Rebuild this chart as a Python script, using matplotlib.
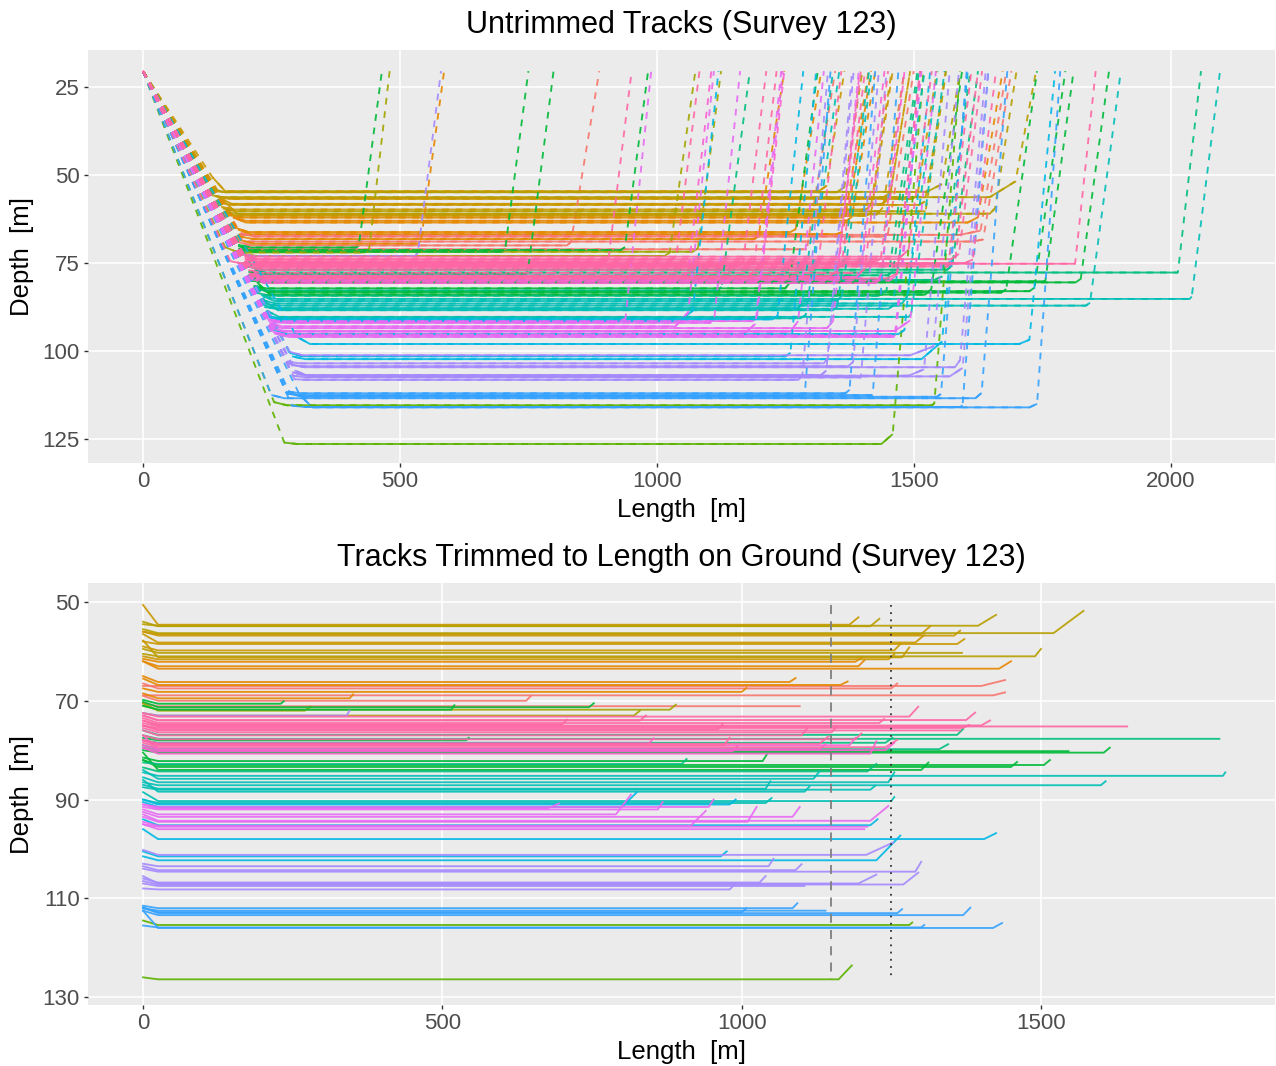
import numpy as np
import matplotlib
matplotlib.use("Agg")
import matplotlib.pyplot as plt

plt.rcParams['font.family'] = ['Liberation Sans', 'DejaVu Sans']

## ============================ Track data ============================ ##

# ggplot-like hue colours, one per track group
palette = {
    'salmon': '#F8766D', 'orange': '#E58700', 'amber': '#C99800',
    'gold': '#B79F00', 'olive': '#A3A500', 'lime': '#5BB300',
    'green': '#00BA38', 'seagreen': '#00BF7D', 'teal': '#00BFB5',
    'cyan': '#00B8E5', 'blue': '#35A2FF', 'purple': '#A58AFF',
    'violet': '#E76BF3', 'magenta': '#FD61D1', 'pink': '#FF67A4',
}
group_names = ['salmon', 'orange', 'amber', 'gold', 'olive', 'lime', 'green',
               'seagreen', 'teal', 'cyan', 'blue', 'purple', 'violet',
               'magenta', 'pink']
group_sizes = [5, 7, 8, 5, 3, 2, 10, 6, 9, 6, 7, 10, 10, 6, 16]

surface_depth = 20.5   # depth where every track leaves / rejoins the surface

# depth of the flat on-ground part [m]
depth = [
    67.0, 68.9, 71.1, 67.5, 70.0,                                   # salmon
    66.8, 66.2, 63.5, 62.1, 63.0, 68.2, 69.5,                       # orange
    54.6, 56.5, 56.8, 58.2, 58.5, 59.8, 61.2, 61.6,                 # amber
    54.9, 54.8, 56.3, 60.3, 61.0,                                   # gold
    72.0, 73.0, 71.8,                                               # olive
    126.4, 115.4,                                                   # lime
    71.3, 71.8, 78.0, 80.2, 80.5, 83.0, 83.4, 82.2, 84.0, 70.6,     # green
    77.7, 76.9, 78.5, 79.8, 84.3, 82.8,                             # seagreen
    85.2, 87.1, 86.5, 85.8, 88.4, 88.0, 87.8, 90.3, 90.7,           # teal
    98.0, 95.2, 91.0, 102.3, 101.5, 91.5,                           # cyan
    112.5, 112.0, 113.4, 116.0, 112.8, 113.0, 115.9,                # blue
    101.2, 103.5, 104.6, 104.3, 107.2, 107.0, 107.5, 106.8, 108.2, 73.0,  # purple
    94.3, 93.5, 94.5, 91.5, 95.5, 96.0, 95.3, 93.0, 91.8, 92.0,     # violet
    80.7, 79.8, 79.0, 80.2, 78.6, 80.0,                             # magenta
    73.2, 73.9, 75.2, 75.0, 75.5, 76.0, 74.5, 76.4, 77.0, 77.8,
    78.7, 79.4, 74.0, 75.8, 79.0, 74.8,                             # pink
]

# depth where the on-ground part begins [m]
start_depth = [
    67.0, 68.9, 70.5, 66.5, 69.0,
    65.5, 65.0, 62.0, 61.5, 62.0, 67.5, 68.5,
    50.6, 56.0, 56.0, 56.5, 58.0, 59.0, 57.8, 61.0,
    54.0, 54.5, 55.5, 59.5, 60.5,
    70.5, 72.5, 71.0,
    126.0, 114.5,
    70.2, 71.0, 77.5, 79.5, 80.0, 82.0, 82.0, 81.5, 80.5, 69.8,
    77.0, 76.0, 78.0, 79.0, 83.5, 82.5,
    84.5, 86.5, 85.5, 84.0, 86.0, 87.5, 87.0, 88.5, 90.0,
    96.0, 94.0, 90.0, 101.5, 100.5, 90.5,
    112.0, 111.5, 112.5, 112.5, 112.0, 111.8, 115.5,
    100.2, 103.0, 104.0, 103.5, 106.5, 105.5, 107.0, 106.0, 108.0, 72.5,
    93.0, 92.5, 93.5, 91.0, 95.0, 95.0, 94.5, 92.0, 91.0, 91.5,
    79.5, 79.0, 78.0, 79.5, 78.0, 77.0,
    72.5, 73.0, 74.5, 74.0, 75.0, 75.0, 73.5, 75.5, 76.0, 77.0,
    78.0, 78.5, 73.0, 75.0, 78.0, 74.0,
]

# length of track on ground [m]
ground_len = [
    1400, 1420, 1097, 1250, 640,
    1165, 1080, 1430, 1190, 1195, 1000, 345,
    1180, 1300, 1355, 1290, 1360, 1255, 1268, 1245,
    1215, 1395, 1521, 1368, 1490,
    270, 820, 880,
    1162, 1280,
    745, 515, 540, 1546, 1605, 1505, 1450, 1035, 1300, 230,
    1798, 1360, 1240, 1330, 1210, 900,
    1804, 1600, 1245, 1120, 1105, 1215, 1040, 1250, 1040,
    1405, 1215, 980, 1225, 965, 800,
    1140, 1085, 1370, 1420, 1000, 1260, 1300,
    1208, 1045, 1290, 1090, 1270, 1195, 1105, 1030, 980, 340,
    1215, 1085, 1010, 945, 1210, 1205, 915, 790, 675, 860,
    1215, 1130, 1180, 985, 845, 1240,
    1280, 1375, 1644, 1400, 1370, 1365, 1230, 1150, 1100, 1190,
    1130, 1240, 830, 960, 970, 700,
]

# lift-off at the end of the ground part: length [m] and rise [m]
hook_len = [
    40, 20, 0, 10, 8,
    12, 10, 20, 12, 10, 8, 6,
    15, 15, 10, 15, 12, 10, 12, 10,
    15, 30, 50, 0, 10,
    10, 10, 10,
    22, 5,
    8, 5, 4, 0, 10, 10, 10, 8, 12, 5,
    0, 10, 12, 15, 15, 8,
    4, 8, 10, 10, 8, 8, 8, 5, 10,
    20, 12, 10, 40, 10, 25,
    0, 8, 12, 15, 8, 8, 5,
    45, 8, 10, 10, 25, 30, 0, 10, 8, 5,
    30, 12, 15, 8, 0, 0, 25, 25, 20, 8,
    10, 10, 10, 8, 8, 15,
    15, 15, 0, 15, 10, 0, 8, 8, 10, 10,
    15, 20, 10, 8, 10, 8,
]
hook_rise = [
    1.2, 0.6, 0.0, 1.0, 1.0,
    0.7, 0.8, 1.5, 1.0, 1.2, 0.8, 0.8,
    1.5, 1.6, 1.0, 1.5, 1.0, 1.3, 2.0, 1.0,
    1.5, 2.2, 4.5, 0.0, 1.5,
    0.8, 1.0, 1.0,
    2.8, 0.5,
    0.8, 0.9, 0.5, 0.0, 1.0, 1.0, 1.0, 1.5, 1.5, 0.5,
    0.0, 1.2, 1.0, 1.0, 1.5, 1.0,
    0.7, 0.8, 2.0, 1.5, 1.0, 0.8, 1.5, 0.8, 1.0,
    1.2, 1.2, 1.0, 5.0, 1.0, 3.0,
    0.0, 1.0, 1.5, 1.0, 0.8, 0.8, 0.5,
    2.5, 1.5, 2.0, 1.2, 2.4, 1.8, 0.0, 1.3, 1.0, 1.0,
    3.0, 2.0, 3.0, 1.5, 0.0, 0.0, 3.0, 4.0, 1.0, 1.5,
    2.5, 1.0, 1.5, 1.0, 1.0, 1.5,
    2.0, 1.5, 0.0, 1.0, 0.6, 0.0, 0.8, 1.0, 1.5, 1.2,
    1.5, 1.5, 1.0, 1.0, 1.5, 1.0,
]

# horizontal length of the descent to the bottom and the ascent back up [m]
descent_len = [
    190, 195, 195, 190, 185,
    185, 180, 175, 170, 175, 190, 190,
    135, 140, 142, 148, 150, 152, 160, 162,
    135, 130, 127, 155, 158,
    160, 195, 190,
    275, 255,
    185, 185, 205, 210, 210, 220, 220, 215, 222, 185,
    216, 205, 208, 210, 222, 218,
    233, 235, 232, 230, 238, 236, 235, 240, 240,
    300, 255, 245, 290, 285, 245,
    280, 282, 250, 305, 280, 285, 290,
    285, 280, 290, 282, 300, 295, 292, 290, 295, 190,
    248, 246, 250, 242, 255, 258, 252, 246, 244, 244,
    212, 210, 208, 210, 208, 212,
    195, 198, 170, 200, 200, 202, 198, 202, 204, 205,
    207, 208, 198, 200, 208, 198,
]
ascent_len = [
    50, 55, 55, 50, 55,
    50, 50, 48, 45, 45, 50, 45,
    35, 38, 38, 40, 40, 40, 42, 42,
    35, 35, 40, 40, 42,
    40, 50, 45,
    60, 50,
    45, 45, 50, 55, 55, 60, 60, 55, 60, 45,
    45, 50, 50, 55, 60, 55,
    55, 60, 60, 58, 62, 62, 60, 65, 65,
    50, 50, 50, 50, 50, 50,
    50, 50, 50, 45, 50, 50, 50,
    50, 50, 50, 50, 50, 50, 50, 50, 50, 45,
    50, 50, 50, 50, 50, 50, 50, 50, 50, 50,
    45, 45, 45, 45, 45, 45,
    45, 45, 40, 45, 45, 45, 45, 45, 45, 45,
    45, 45, 45, 45, 45, 45,
]

# reference lengths marked on the trimmed plot [m]
ref_dashed = 1150
ref_dotted = 1250

track_color = [palette[g] for g, n in zip(group_names, group_sizes) for _ in range(n)]
n_tracks = len(track_color)
for arr in (depth, start_depth, ground_len, hook_len, hook_rise, descent_len, ascent_len):
    assert len(arr) == n_tracks

LEAD = 25  # metres over which a track settles onto its bottom depth
LW = 1.35


def ground_path(i, offset=0.0):
    xs = np.array([0, LEAD, ground_len[i], ground_len[i] + hook_len[i]], float) + offset
    ys = np.array([start_depth[i], depth[i], depth[i], depth[i] - hook_rise[i]])
    return xs, ys


def style_axes(ax, title, xlim, ylim, xticks, yticks):
    ax.set_facecolor('#EBEBEB')
    for s in ax.spines.values():
        s.set_visible(False)
    ax.set_xlim(*xlim)
    ax.set_ylim(*ylim)
    ax.set_xticks(xticks)
    ax.set_yticks(yticks)
    ax.grid(True, color='white', linewidth=1.1)
    ax.set_axisbelow(True)
    ax.tick_params(length=3, width=1.0, color='#333333', labelcolor='#4D4D4D',
                   labelsize=16, pad=3)
    ax.set_title(title, fontsize=22, pad=12)
    ax.set_xlabel('Length  [m]', fontsize=18.5, labelpad=4)
    ax.set_ylabel('Depth  [m]', fontsize=18.5, labelpad=6)


fig = plt.figure(figsize=(12.76, 10.66), dpi=100)
ax1 = fig.add_axes([88 / 1276, 1 - 463 / 1066, 1187 / 1276, 413 / 1066])
ax2 = fig.add_axes([88 / 1276, 1 - 1005 / 1066, 1187 / 1276, 422 / 1066])

## ============================ Untrimmed ============================ ##
style_axes(ax1, 'Untrimmed Tracks (Survey 123)', (-107, 2203), (131.8, 14.5),
           [0, 500, 1000, 1500, 2000], [25, 50, 75, 100, 125])

# on-ground part solid, whole track dashed on top
for i in range(n_tracks):
    xs, ys = ground_path(i, descent_len[i])
    ax1.plot(xs, ys, color=track_color[i], lw=LW, alpha=0.9, solid_capstyle='butt')

for i in range(n_tracks):
    xs, ys = ground_path(i, descent_len[i])
    xd = np.concatenate([[0], xs, [xs[-1] + ascent_len[i]]])
    yd = np.concatenate([[surface_depth], ys, [surface_depth]])
    ax1.plot(xd, yd, color=track_color[i], lw=LW, alpha=0.9,
             linestyle=(0, (3.6, 3.6)))

## ============================ Trimmed ============================ ##
style_axes(ax2, 'Tracks Trimmed to Length on Ground (Survey 123)', (-92, 1891),
           (131.6, 46.15), [0, 500, 1000, 1500], [50, 70, 90, 110, 130])

for i in range(n_tracks):
    xs, ys = ground_path(i)
    ax2.plot(xs, ys, color=track_color[i], lw=LW, alpha=0.9)

y_top, y_bot = min(start_depth), max(depth)
ax2.plot([ref_dashed, ref_dashed], [y_top, y_bot], color='#7F7F7F', lw=1.3,
         linestyle=(0, (5, 4)))
ax2.plot([ref_dotted, ref_dotted], [y_top, y_bot], color='#333333', lw=1.3,
         linestyle=(0, (1, 3)))

fig.savefig('out.png', dpi=100)
